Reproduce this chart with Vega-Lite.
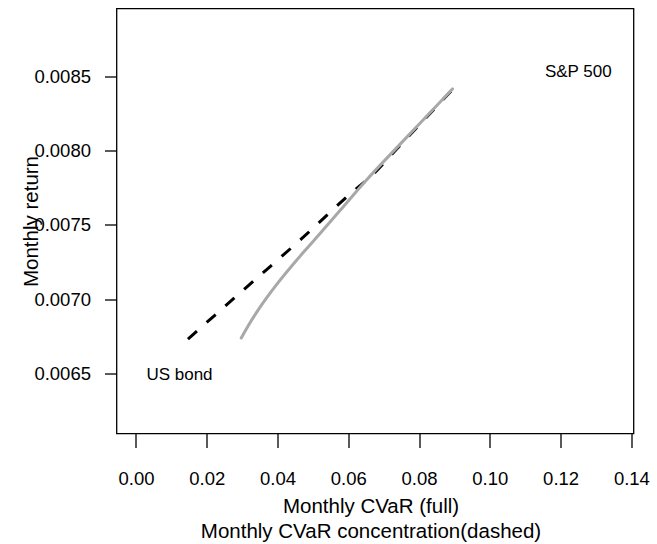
{
  "$schema": "https://vega.github.io/schema/vega-lite/v6.json",
  "width": 517,
  "height": 425,
  "autosize": "none",
  "padding": {"left": 116.5, "top": 8.5, "right": 23.5, "bottom": 110.5},
  "background": "white",
  "config": {
    "view": {"stroke": "black", "strokeWidth": 1.3},
    "font": "Liberation Sans",
    "axis": {
      "grid": false,
      "domain": false,
      "tickColor": "black",
      "tickWidth": 1.3,
      "labelColor": "black",
      "titleColor": "black",
      "labelFont": "Liberation Sans",
      "titleFont": "Liberation Sans",
      "labelFontSize": 18.5,
      "titleFontSize": 20.5,
      "titleFontWeight": "normal"
    }
  },
  "layer": [
    {
      "data": {"values": [
        {"x": 0.01469, "y": 0.006731},
        {"x": 0.03088, "y": 0.007072},
        {"x": 0.04689, "y": 0.007408},
        {"x": 0.06054, "y": 0.007707},
        {"x": 0.06675, "y": 0.007834},
        {"x": 0.07466, "y": 0.008035},
        {"x": 0.08944, "y": 0.008409}
      ]},
      "mark": {"type": "line", "color": "black", "strokeWidth": 3, "strokeDash": [12, 13], "strokeCap": "butt", "interpolate": "monotone"},
      "encoding": {
        "x": {
          "field": "x", "type": "quantitative",
          "scale": {"domain": [-0.0055, 0.1406], "nice": false, "zero": false},
          "axis": {
            "values": [0, 0.02, 0.04, 0.06, 0.08, 0.1, 0.12, 0.14],
            "format": ".2f",
            "tickSize": 14,
            "labelPadding": 22,
            "labelBaseline": "top",
            "title": ["Monthly CVaR (full)", "Monthly CVaR concentration(dashed)"],
            "titleLineHeight": 25,
            "titleBaseline": "alphabetic",
            "titleAnchor": "middle",
            "titleX": 254,
            "titleY": 79
          }
        },
        "y": {
          "field": "y", "type": "quantitative",
          "scale": {"domain": [0.006096, 0.008954], "nice": false, "zero": false},
          "axis": {
            "values": [0.0065, 0.007, 0.0075, 0.008, 0.0085],
            "format": ".4f",
            "tickSize": 12,
            "labelPadding": 14,
            "labelAlign": "right",
            "labelBaseline": "middle",
            "title": "Monthly return",
            "titleAngle": -90,
            "titleAlign": "center",
            "titleBaseline": "alphabetic",
            "titleX": -79,
            "titleY": 212.5
          }
        }
      }
    },
    {
      "data": {"values": [
        {"x": 0.02975, "y": 0.006738},
        {"x": 0.03181, "y": 0.006824},
        {"x": 0.03418, "y": 0.006914},
        {"x": 0.03701, "y": 0.007011},
        {"x": 0.04028, "y": 0.007114},
        {"x": 0.04407, "y": 0.007224},
        {"x": 0.04782, "y": 0.007328},
        {"x": 0.05158, "y": 0.007429},
        {"x": 0.05771, "y": 0.007597},
        {"x": 0.06477, "y": 0.007791},
        {"x": 0.07466, "y": 0.008042},
        {"x": 0.08596, "y": 0.008325},
        {"x": 0.08944, "y": 0.008413}
      ]},
      "mark": {"type": "line", "color": "#a8a8a8", "strokeWidth": 3, "strokeCap": "round", "interpolate": "monotone"},
      "encoding": {
        "x": {"field": "x", "type": "quantitative"},
        "y": {"field": "y", "type": "quantitative"}
      }
    },
    {
      "data": {"values": [
        {"x": 0.125, "y": 0.008527, "label": "S&P 500"},
        {"x": 0.0123, "y": 0.00649, "label": "US bond"}
      ]},
      "mark": {"type": "text", "fontSize": 17, "font": "Liberation Sans", "color": "black", "align": "center", "baseline": "middle"},
      "encoding": {
        "x": {"field": "x", "type": "quantitative"},
        "y": {"field": "y", "type": "quantitative"},
        "text": {"field": "label"}
      }
    }
  ]
}
